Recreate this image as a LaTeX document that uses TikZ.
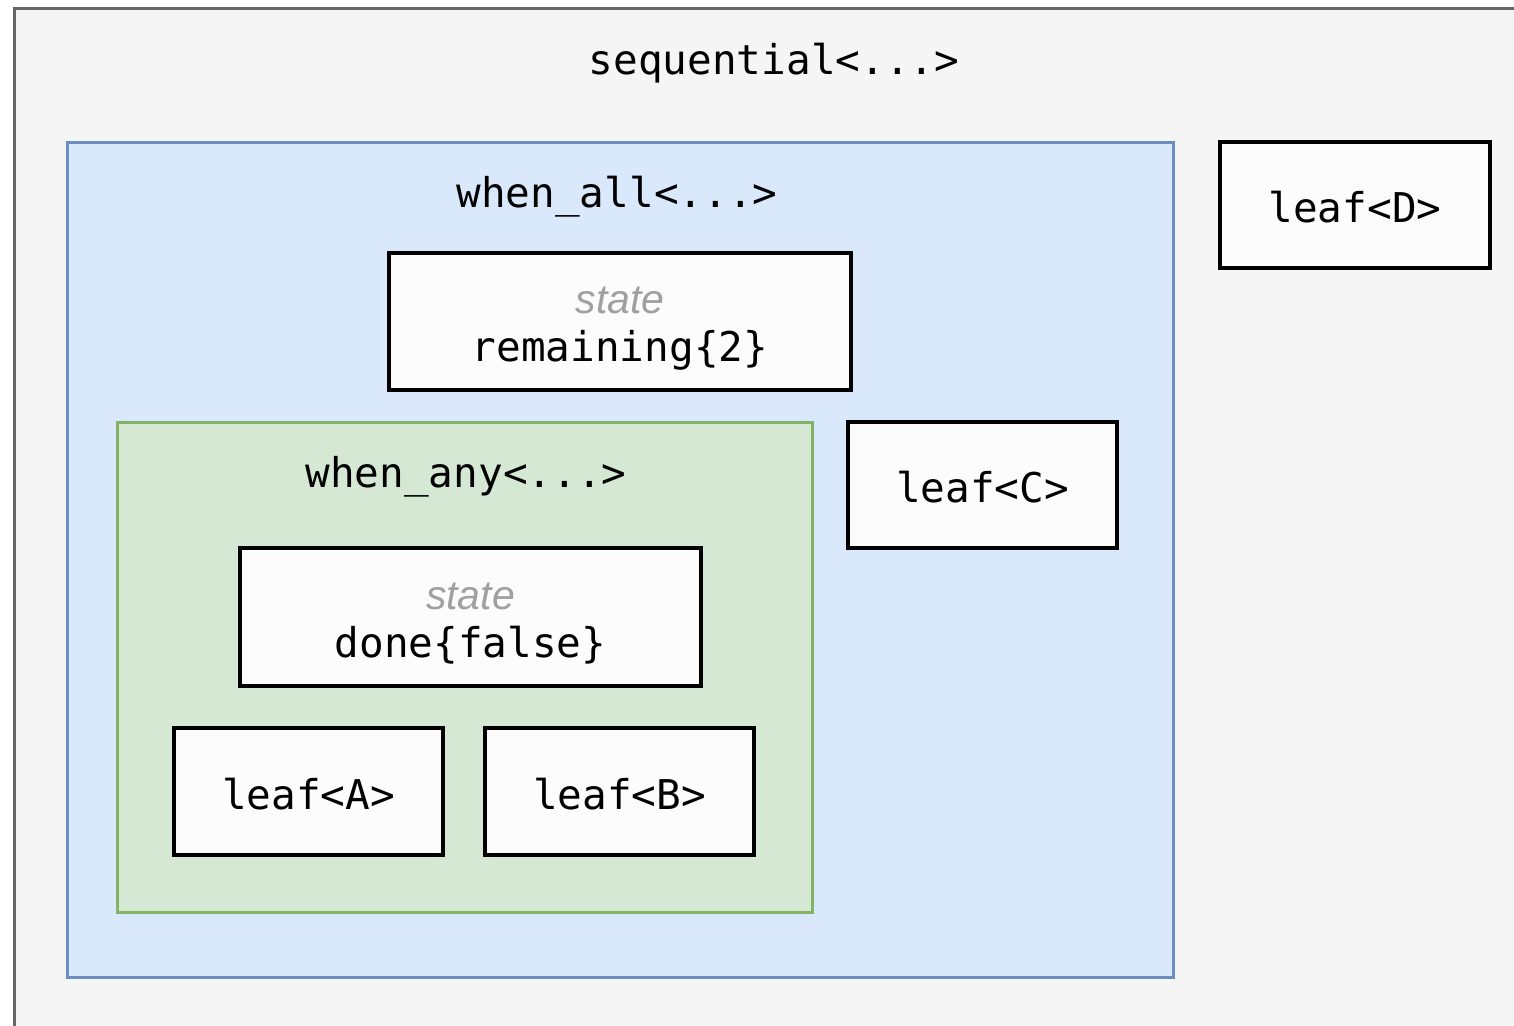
\documentclass[tikz,border=0pt]{standalone}
\usepackage{fontspec}
\setmonofont{DejaVu Sans Mono}
\newfontfamily\statefont{Liberation Sans}
\definecolor{outerfill}{HTML}{F5F5F5}
\definecolor{outerdraw}{HTML}{666666}
\definecolor{bluefill}{HTML}{DAE8FC}
\definecolor{bluedraw}{HTML}{6C8EBF}
\definecolor{greenfill}{HTML}{D5E8D4}
\definecolor{greendraw}{HTML}{82B366}
\definecolor{boxfill}{HTML}{FCFCFC}
\definecolor{stategray}{HTML}{A0A0A0}
\newcommand{\twoline}[2]{\raisebox{-13pt}[0pt][0pt]{\begin{tabular}{@{}c@{}}{\statefont\itshape\color{stategray}#1}\\#2\end{tabular}}}
\newcommand{\oneline}[1]{\raisebox{-17.5pt}[0pt][0pt]{#1}}
\begin{document}
\begin{tikzpicture}[x=1pt,y=-1pt,
  monotext/.style={font=\ttfamily\fontsize{41}{48}\selectfont, text=black, inner sep=0pt},
  container/.style={line width=3pt, inner sep=0pt},
  leafbox/.style={draw=black, fill=boxfill, line width=3.5pt, inner sep=0pt,
    font=\ttfamily\fontsize{41}{48}\selectfont, align=center}
]
\useasboundingbox (0,0) rectangle (1514,1025);
\clip (0,0) rectangle (1514,1025);
\fill[white] (0,0) rectangle (1514,1025);
% outer sequential container
\node[container, draw=outerdraw, fill=outerfill, minimum width=1540pt, minimum height=1050pt, anchor=north west] (seq) at (13,7) {};
\node[monotext] (seqlabel) at (774,63) {sequential<...>};
% when_all container
\node[container, draw=bluedraw, fill=bluefill, minimum width=1106pt, minimum height=835pt] (wall) at (620,559.5) {};
\node[monotext] (walllabel) at (617,197) {when\_all<...>};
% leaf D
\node[leafbox, minimum width=270pt, minimum height=126pt] (leafD) at (1355,205) {\oneline{leaf<D>}};
% remaining state
\node[leafbox, minimum width=462pt, minimum height=137pt] (rem) at (620,321.5)
  {\twoline{state}{remaining\{2\}}};
% when_any container
\node[container, draw=greendraw, fill=greenfill, minimum width=695pt, minimum height=490pt] (wany) at (464.5,667) {};
\node[monotext] (wanylabel) at (466,477) {when\_any<...>};
% leaf C
\node[leafbox, minimum width=269pt, minimum height=126pt] (leafC) at (982.5,485) {\oneline{leaf<C>}};
% done state
\node[leafbox, minimum width=461pt, minimum height=138pt] (done) at (470.5,617)
  {\twoline{state}{done\{false\}}};
% leaf A, B
\node[leafbox, minimum width=269pt, minimum height=127pt] (leafA) at (308.5,791.5) {\oneline{leaf<A>}};
\node[leafbox, minimum width=269pt, minimum height=127pt] (leafB) at (619.5,791.5) {\oneline{leaf<B>}};
\end{tikzpicture}
\end{document}
